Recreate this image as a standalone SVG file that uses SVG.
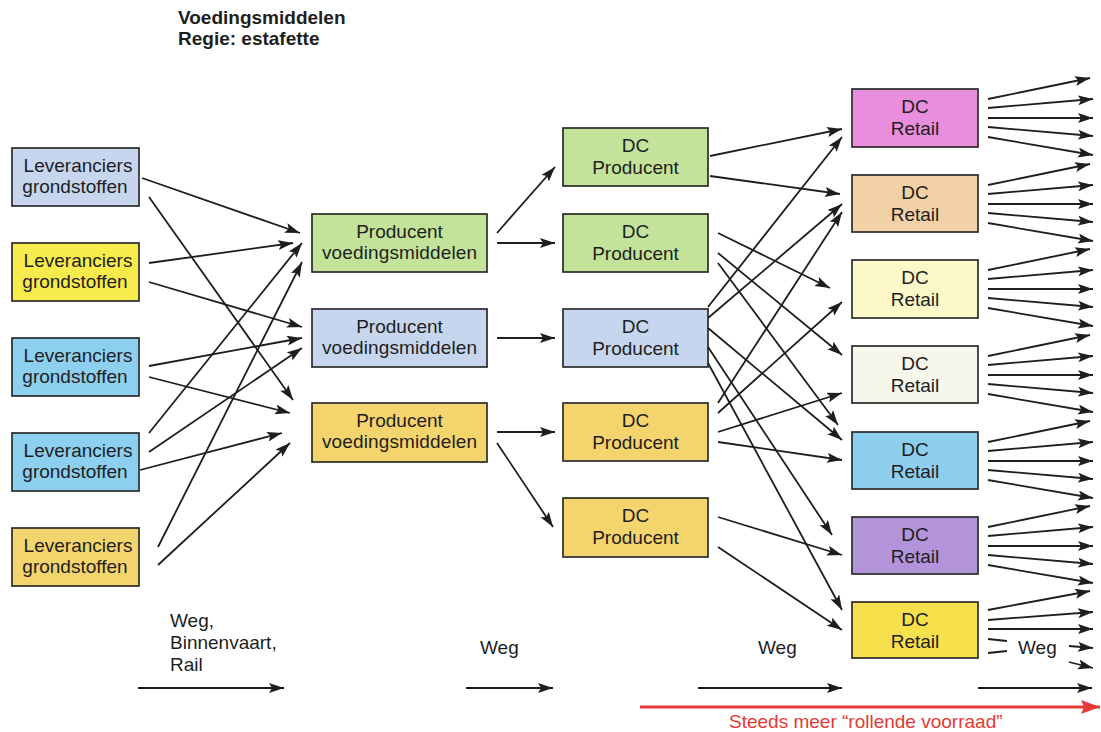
<svg xmlns="http://www.w3.org/2000/svg" width="1101" height="732" viewBox="0 0 1101 732">
<defs>
<style>
.bx{stroke:#2b2b2b;stroke-width:1.7}
.t{font-family:"Liberation Sans",Arial,sans-serif;font-size:19px;fill:#1e1e1e;text-anchor:middle}
.l{font-family:"Liberation Sans",Arial,sans-serif;font-size:19px;fill:#1e1e1e}
.h{font-family:"Liberation Sans",Arial,sans-serif;font-size:19px;font-weight:bold;fill:#1e1e1e}
.c path{fill:none;stroke:#1e1e1e;stroke-width:1.8;marker-end:url(#ah)}
.c path.n{marker-end:none}
</style>
<marker id="ah" markerUnits="userSpaceOnUse" markerWidth="16" markerHeight="11" refX="15" refY="5" orient="auto">
<path d="M0,0 L15,5 L0,10 L3,5 z" fill="#1e1e1e"/>
</marker>
<marker id="rh" markerUnits="userSpaceOnUse" markerWidth="20" markerHeight="15" refX="19" refY="7" orient="auto">
<path d="M0,0 L19,7 L0,14 L3,7 z" fill="#e53a35"/>
</marker>
</defs>
<rect width="1101" height="732" fill="#ffffff"/>

<g id="title">
<text class="h" x="178" y="24">Voedingsmiddelen</text>
<text class="h" x="178" y="45">Regie: estafette</text>
</g>

<g id="lev1"><rect class="bx" x="12" y="148" width="127" height="58" fill="#c6d6ef"/><text class="t" x="78" y="172">Leveranciers</text><text class="t" x="75" y="193">grondstoffen</text></g>
<g id="lev2"><rect class="bx" x="12" y="243" width="127" height="58" fill="#f8ec4c"/><text class="t" x="78" y="267">Leveranciers</text><text class="t" x="75" y="288">grondstoffen</text></g>
<g id="lev3"><rect class="bx" x="12" y="338" width="127" height="58" fill="#8dcfee"/><text class="t" x="78" y="362">Leveranciers</text><text class="t" x="75" y="383">grondstoffen</text></g>
<g id="lev4"><rect class="bx" x="12" y="433" width="127" height="58" fill="#8dcfee"/><text class="t" x="78" y="457">Leveranciers</text><text class="t" x="75" y="478">grondstoffen</text></g>
<g id="lev5"><rect class="bx" x="12" y="528" width="127" height="58" fill="#f4d46c"/><text class="t" x="78" y="552">Leveranciers</text><text class="t" x="75" y="573">grondstoffen</text></g>

<g id="prod1"><rect class="bx" x="312" y="214" width="175" height="58" fill="#c3e39b"/><text class="t" x="399.5" y="238">Producent</text><text class="t" x="399.5" y="259" textLength="155">voedingsmiddelen</text></g>
<g id="prod2"><rect class="bx" x="312" y="309" width="175" height="58" fill="#c6d6ef"/><text class="t" x="399.5" y="333">Producent</text><text class="t" x="399.5" y="354" textLength="155">voedingsmiddelen</text></g>
<g id="prod3"><rect class="bx" x="312" y="403" width="175" height="59" fill="#f4d46c"/><text class="t" x="399.5" y="427">Producent</text><text class="t" x="399.5" y="448" textLength="155">voedingsmiddelen</text></g>

<g id="dcp1"><rect class="bx" x="563" y="128" width="145" height="58" fill="#c3e39b"/><text class="t" x="635.5" y="152">DC</text><text class="t" x="635.5" y="174">Producent</text></g>
<g id="dcp2"><rect class="bx" x="563" y="214" width="145" height="58" fill="#c3e39b"/><text class="t" x="635.5" y="238">DC</text><text class="t" x="635.5" y="260">Producent</text></g>
<g id="dcp3"><rect class="bx" x="563" y="309" width="145" height="58" fill="#c6d6ef"/><text class="t" x="635.5" y="333">DC</text><text class="t" x="635.5" y="355">Producent</text></g>
<g id="dcp4"><rect class="bx" x="563" y="403" width="145" height="58" fill="#f4d46c"/><text class="t" x="635.5" y="427">DC</text><text class="t" x="635.5" y="449">Producent</text></g>
<g id="dcp5"><rect class="bx" x="563" y="498" width="145" height="59" fill="#f4d46c"/><text class="t" x="635.5" y="522">DC</text><text class="t" x="635.5" y="544">Producent</text></g>

<g id="dcr1"><rect class="bx" x="852" y="89" width="126" height="58" fill="#e98ddd"/><text class="t" x="915" y="113">DC</text><text class="t" x="915" y="135">Retail</text></g>
<g id="dcr2"><rect class="bx" x="852" y="175" width="126" height="57" fill="#f3d1a6"/><text class="t" x="915" y="199">DC</text><text class="t" x="915" y="221">Retail</text></g>
<g id="dcr3"><rect class="bx" x="852" y="260" width="126" height="58" fill="#fcf8c9"/><text class="t" x="915" y="284">DC</text><text class="t" x="915" y="306">Retail</text></g>
<g id="dcr4"><rect class="bx" x="852" y="346" width="126" height="57" fill="#f6f6ea"/><text class="t" x="915" y="370">DC</text><text class="t" x="915" y="392">Retail</text></g>
<g id="dcr5"><rect class="bx" x="852" y="432" width="126" height="57" fill="#8dcdee"/><text class="t" x="915" y="456">DC</text><text class="t" x="915" y="478">Retail</text></g>
<g id="dcr6"><rect class="bx" x="852" y="517" width="126" height="57" fill="#b394da"/><text class="t" x="915" y="541">DC</text><text class="t" x="915" y="563">Retail</text></g>
<g id="dcr7"><rect class="bx" x="852" y="602" width="126" height="56" fill="#f6e04b"/><text class="t" x="915" y="626">DC</text><text class="t" x="915" y="648">Retail</text></g>

<g id="connectors" class="c">
<path d="M142,178 L300,233"/>
<path d="M149,197 L293,400"/>
<path d="M149,263 L293,243"/>
<path d="M149,282 L302,327"/>
<path d="M149,366 L302,338"/>
<path d="M149,377 L290,413"/>
<path d="M149,433 L302,243"/>
<path d="M149,452 L302,348"/>
<path d="M140,470 L282,433"/>
<path d="M158,547 L302,262"/>
<path d="M158,565 L290,443"/>

<path d="M497,233 L555,167"/>
<path d="M497,243 L555,243"/>
<path d="M497,338 L555,338"/>
<path d="M497,432 L555,432"/>
<path d="M497,443 L553,527"/>

<path d="M710,156 L842,129"/>
<path d="M710,176 L840,194"/>
<path d="M718,233 L830,288"/>
<path d="M718,253 L842,355"/>
<path d="M718,263 L838,425"/>
<path d="M708,307 L842,137"/>
<path d="M708,318 L842,204"/>
<path d="M708,328 L842,440"/>
<path d="M708,347 L832,535"/>
<path d="M708,363 L842,610"/>
<path d="M718,403 L842,212"/>
<path d="M718,413 L842,302"/>
<path d="M718,432 L842,393"/>
<path d="M718,442 L842,460"/>
<path d="M718,517 L842,555"/>
<path d="M718,547 L842,630"/>

<path d="M988,99 L1090,78"/><path d="M988,108 L1093,99"/><path d="M988,118 L1093,118"/><path d="M988,127 L1093,136"/><path d="M988,137 L1093,155"/>
<path d="M988,185 L1090,164"/><path d="M988,194 L1093,185"/><path d="M988,204 L1093,204"/><path d="M988,213 L1093,222"/><path d="M988,223 L1093,241"/>
<path d="M988,270 L1090,249"/><path d="M988,279 L1093,270"/><path d="M988,289 L1093,289"/><path d="M988,298 L1093,307"/><path d="M988,308 L1093,326"/>
<path d="M988,356 L1090,335"/><path d="M988,365 L1093,356"/><path d="M988,375 L1093,375"/><path d="M988,384 L1093,393"/><path d="M988,394 L1093,412"/>
<path d="M988,442 L1090,421"/><path d="M988,451 L1093,442"/><path d="M988,461 L1093,461"/><path d="M988,470 L1093,479"/><path d="M988,480 L1093,498"/>
<path d="M988,527 L1090,506"/><path d="M988,536 L1093,527"/><path d="M988,546 L1093,546"/><path d="M988,555 L1093,564"/><path d="M988,565 L1093,583"/>
<path d="M988,610 L1090,591"/><path d="M988,620 L1093,612"/><path d="M988,629 L1093,629"/>
<path class="n" d="M988,639 L1007,641"/><path class="n" d="M988,653 L1007,651"/>
<path d="M1069,646 L1093,648"/><path d="M1069,662 L1093,668"/>

<path d="M138,688 L284,688"/>
<path d="M466,688 L553,688"/>
<path d="M698,688 L842,688"/>
<path d="M978,688 L1092,688"/>
<path d="M640,707 L1100,707" style="stroke:#e53a35;stroke-width:3.2;marker-end:url(#rh)"/>
</g>

<g id="labels">
<text class="l" x="170" y="627">Weg,</text>
<text class="l" x="170" y="649">Binnenvaart,</text>
<text class="l" x="170" y="671">Rail</text>
<text class="l" x="480" y="654">Weg</text>
<text class="l" x="758" y="654">Weg</text>
<text class="l" x="1018" y="654">Weg</text>
<text class="l" x="729" y="728" style="fill:#e53a35">Steeds meer “rollende voorraad”</text>
</g>
</svg>
